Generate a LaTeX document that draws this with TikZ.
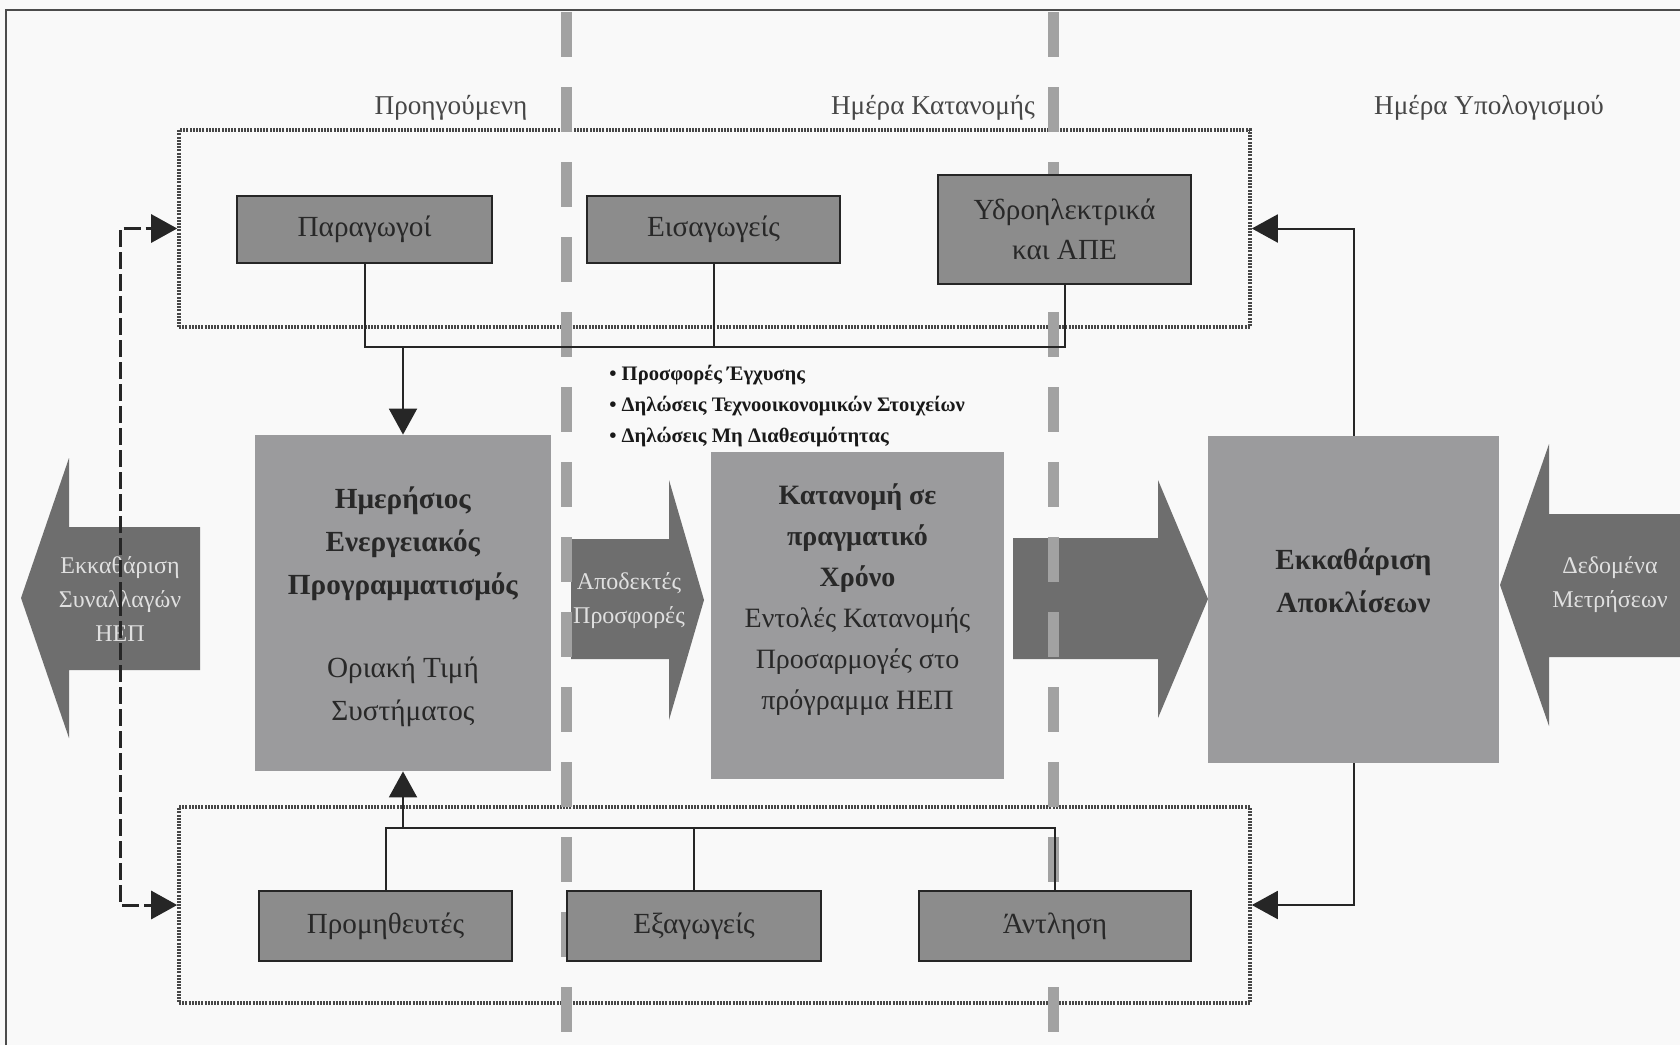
\documentclass[tikz,border=0pt]{standalone}
\usepackage{fontspec}
\setmainfont{Liberation Serif}
\usetikzlibrary{arrows.meta}

\definecolor{paper}{RGB}{249,249,249}
\definecolor{smallfill}{RGB}{140,140,140}
\definecolor{bigfill}{RGB}{155,155,157}
\definecolor{blockarrow}{RGB}{110,110,110}
\definecolor{phasegrey}{RGB}{162,162,162}
\definecolor{inktext}{RGB}{40,40,40}

\tikzset{
  boxsize/.style 2 args={minimum width=#1*0.5pt, minimum height=#2*0.5pt},
  smallbox/.style={draw=black!85, line width=1.3pt, fill=smallfill, text=inktext,
    inner sep=0pt, align=center, font=\fontsize{14.6}{20}\selectfont},
  bigbox/.style={fill=bigfill, inner sep=0pt},
  boxtext/.style={text=inktext, align=center, font=\fontsize{14.6}{21.5}\selectfont},
  arrowtext/.style={text=black!12, align=center, font=\fontsize{12}{17}\selectfont},
  header/.style={text=black!72, font=\fontsize{13.6}{15}\selectfont},
  grouprect/.style={draw=black!72, line width=1.8pt, dash pattern=on 1pt off 0.6pt, inner sep=0pt},
  phaseline/.style={draw=phasegrey, line width=5.5pt, dash pattern=on 22.5pt off 15pt},
  wire/.style={draw=black!85, line width=1pt},
  feed/.style={wire, -{Triangle[length=13pt,width=14pt]}},
  dashfeed/.style={feed, line width=1.5pt, dash pattern=on 8.5pt off 2.5pt},
}

\begin{document}
\begin{tikzpicture}[x=0.5pt, y=-0.5pt]
  \useasboundingbox (0,0) rectangle (1680,1045);
  \fill[paper] (0,0) rectangle (1680,1045);
  \draw[black!70, line width=1pt] (6,1045) -- (6,10) -- (1680,10);

  % headings of the three days
  \node[header] (prevday) at (451,108) {Προηγούμενη};
  \node[header] (dispday) at (933,108) {Ημέρα Κατανομής};
  \node[header] (calcday) at (1489,108) {Ημέρα Υπολογισμού};

  % groups of participants
  \node[grouprect, boxsize={1071}{197}] (topgrp) at (714.5,228.5) {};
  \node[grouprect, boxsize={1071}{196}] (botgrp) at (714.5,905) {};

  % block arrows
  \fill[blockarrow] (21,598) -- (69,458) -- (69,527) -- (200,527) -- (200,670)
    -- (69,670) -- (69,738) -- cycle;
  \fill[blockarrow] (571,539) -- (669,539) -- (669,480) -- (704,600) -- (669,720)
    -- (669,659) -- (571,659) -- cycle;
  \fill[blockarrow] (1013,538) -- (1158,538) -- (1158,480) -- (1208,599) -- (1158,718)
    -- (1158,659) -- (1013,659) -- cycle;
  \fill[blockarrow] (1680,514) -- (1549,514) -- (1549,444) -- (1500,585) -- (1549,726)
    -- (1549,657) -- (1680,657) -- cycle;

  % day boundaries
  \draw[phaseline] (566,12) -- (566,1045);
  \draw[phaseline] (1053,12) -- (1053,1045);

  % participants
  \node[smallbox, boxsize={255}{67}] (prod) at (364.5,229.5) {Παραγωγοί};
  \node[smallbox, boxsize={253}{67}] (imp) at (713.5,229.5) {Εισαγωγείς};
  \node[smallbox, boxsize={253}{109}] (hydro) at (1064.5,229.5) {Υδροηλεκτρικά\\και ΑΠΕ};
  \node[smallbox, boxsize={253}{70}] (supp) at (385.5,926) {Προμηθευτές};
  \node[smallbox, boxsize={254}{70}] (exp) at (694,926) {Εξαγωγείς};
  \node[smallbox, boxsize={272}{70}] (pump) at (1055,926) {Άντληση};

  % main processes
  \node[bigbox, boxsize={296}{336}] (dayahead) at (403,603) {};
  \node[boxtext] (dayahead-txt) at (403,607)
    {\textbf{Ημερήσιος}\\\textbf{Ενεργειακός}\\\textbf{Προγραμματισμός}\\[20pt]Οριακή Τιμή\\Συστήματος};
  \node[bigbox, boxsize={293}{327}] (realtime) at (857.5,615.5) {};
  \node[boxtext, font=\fontsize{14}{20.5}\selectfont] (realtime-txt) at (857.5,600)
    {\textbf{Κατανομή σε}\\\textbf{πραγματικό}\\\textbf{Χρόνο}\\Εντολές Κατανομής\\Προσαρμογές στο\\πρόγραμμα ΗΕΠ};
  \node[bigbox, boxsize={291}{327}] (imbal) at (1353.5,599.5) {};
  \node[boxtext] (imbal-txt) at (1353.5,580) {\textbf{Εκκαθάριση}\\\textbf{Αποκλίσεων}};

  % texts on the block arrows
  \node[arrowtext] (hepsettle) at (120,599) {Εκκαθάριση\\Συναλλαγών\\ΗΕΠ};
  \node[arrowtext] (accepted) at (629,601) {Αποδεκτές\\Προσφορές};
  \node[arrowtext] (metering) at (1610,585) {Δεδομένα\\Μετρήσεων};

  % submissions
  \node[text=black!90, anchor=west, align=left, inner sep=0pt,
    font=\fontsize{10.3}{15.5}\selectfont\bfseries] (offers) at (609,406)
    {• Προσφορές Έγχυσης\\• Δηλώσεις Τεχνοοικονομικών Στοιχείων\\• Δηλώσεις Μη Διαθεσιμότητας};

  % connectors
  \coordinate (topbus) at (402,347);
  \coordinate (botbus) at (402,828);
  \draw[wire] (prod.south) -- (prod.south |- topbus) -- (hydro.south |- topbus) -- (hydro.south);
  \draw[wire] (imp.south) -- (imp.south |- topbus);
  \draw[feed] (dayahead.north |- topbus) -- (dayahead.north);
  \draw[wire] (supp.north) -- (supp.north |- botbus) -- (pump.north |- botbus) -- (pump.north);
  \draw[wire] (exp.north) -- (exp.north |- botbus);
  \draw[feed] (dayahead.south |- botbus) -- (dayahead.south);
  \draw[feed] (imbal.north) |- (topgrp.east);
  \draw[feed] (imbal.south) |- (botgrp.east);
  \draw[dashfeed] (hepsettle.center) |- (topgrp.west);
  \draw[dashfeed] (hepsettle.center) |- (botgrp.west);
\end{tikzpicture}
\end{document}
